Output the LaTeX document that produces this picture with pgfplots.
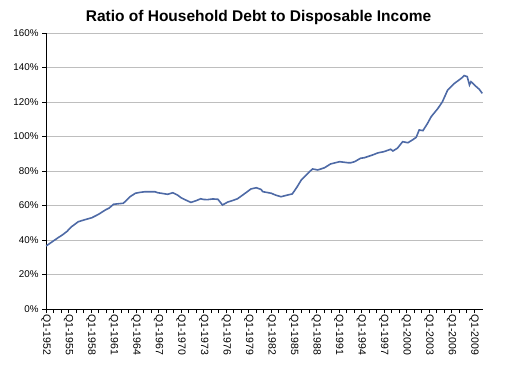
\documentclass[border=0pt]{standalone}
\usepackage{fontspec}
\setmainfont{Liberation Sans}
\usepackage{pgfplots}
\pgfplotsset{compat=1.18}
\definecolor{linec}{RGB}{78,106,166}
\definecolor{gridc}{RGB}{190,190,190}
\begin{document}
\begin{tikzpicture}
\path[use as bounding box] (0,0) rectangle (506pt,368pt);
\node[font=\bfseries\fontsize{15.5}{17}\selectfont] at (258.5pt,351pt) {Ratio of Household Debt to Disposable Income};
\begin{axis}[
  at={(46pt,59pt)}, anchor=south west, scale only axis,
  width=437pt, height=276pt,
  xmin=1952, xmax=2010.2, ymin=0, ymax=160,
  axis x line*=bottom, axis y line*=left,
  axis line style={-, black, line width=0.8pt},
  ytick={0,20,...,160},
  yticklabel={\pgfmathprintnumber{\tick}\%},
  /pgf/number format/assume math mode=true,
  ymajorgrids, grid style={gridc, line width=0.8pt},
  xtick={1952,1955,1958,1961,1964,1967,1970,1973,1976,1979,1982,1985,1988,1991,1994,1997,2000,2003,2006,2009},
  xticklabels={Q1-1952,Q1-1955,Q1-1958,Q1-1961,Q1-1964,Q1-1967,Q1-1970,Q1-1973,Q1-1976,Q1-1979,Q1-1982,Q1-1985,Q1-1988,Q1-1991,Q1-1994,Q1-1997,Q1-2000,Q1-2003,Q1-2006,Q1-2009},
  minor x tick num=2,
  tick align=outside,
  major tick length=4pt, minor tick length=4pt,
  tick style={black, line width=0.6pt},
  xticklabel style={rotate=-90, anchor=west, font=\fontsize{10.5}{11}\selectfont, inner sep=1pt},
  yticklabel style={font=\fontsize{9.8}{11}\selectfont},
]
\addplot[linec, line width=1.6pt, no markers] table {
x y
1952.0 36.5
1952.5 38.0
1953.0 39.5
1953.6 41.3
1954.2 43.0
1954.8 45.0
1955.4 47.7
1956.3 50.6
1957.2 51.8
1958.1 52.9
1959.0 54.9
1959.9 57.4
1960.4 58.5
1961.0 60.7
1961.6 61.0
1962.3 61.3
1963.2 65.1
1963.9 67.1
1964.5 67.6
1965.2 68.0
1966.0 68.0
1966.5 68.0
1966.9 67.4
1967.5 67.0
1968.2 66.5
1968.9 67.4
1969.5 66.1
1970.0 64.5
1970.4 63.6
1971.3 61.8
1972.0 62.8
1972.6 63.9
1973.0 63.5
1973.5 63.4
1974.2 63.8
1974.9 63.6
1975.5 60.3
1976.2 62.0
1976.8 62.8
1977.5 63.9
1978.4 66.7
1979.3 69.6
1980.0 70.3
1980.6 69.4
1980.9 68.0
1982.0 67.1
1982.6 66.0
1983.3 65.1
1984.2 66.1
1984.8 66.7
1985.4 70.5
1986.0 74.8
1986.5 77.0
1987.1 79.6
1987.5 81.2
1988.2 80.6
1989.1 81.9
1989.9 84.1
1991.1 85.4
1992.2 84.8
1992.6 84.8
1993.1 85.4
1993.9 87.4
1994.4 87.7
1995.5 89.3
1996.2 90.5
1997.0 91.2
1997.9 92.6
1998.2 91.6
1998.8 93.2
1999.5 97.0
2000.2 96.4
2000.8 98.0
2001.3 99.5
2001.7 103.8
2002.2 103.4
2002.8 107.5
2003.3 111.5
2004.2 116.3
2004.8 120.2
2005.5 127.0
2006.4 130.8
2007.3 133.7
2007.7 135.3
2008.1 134.7
2008.4 129.9
2008.6 131.8
2009.3 128.9
2009.7 127.4
2010.1 125.0
};
\end{axis}
\end{tikzpicture}
\end{document}
